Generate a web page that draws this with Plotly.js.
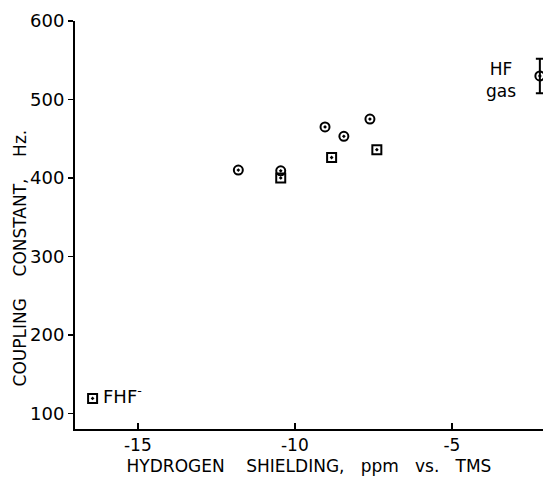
<!DOCTYPE html>
<html>
<head>
<meta charset="utf-8">
<script src="https://cdn.plot.ly/plotly-3.0.1.min.js"></script>
<style>html,body{margin:0;padding:0;background:#fff;}#chart{width:543px;height:477px;}</style>
</head>
<body>
<div id="chart"></div>
<script>
// Circles (⊙)
const circleX = [-11.8, -10.45, -9.04, -8.44, -7.61];
const circleY = [410, 409, 465, 453, 475];
// Squares (⊡)
const squareX = [-16.44, -10.45, -8.83, -7.39];
const squareY = [119, 400, 426, 436];
// HF gas point with error bar
const hfX = [-2.2];
const hfY = [530];
const hfErr = [22];
// Labels
const fhfLabel = "FHF<sup>-</sup>";
const hfLabel = "HF<br>gas";
const xTickVals = [-15, -10, -5];
const yTickVals = [100, 200, 300, 400, 500, 600];

const fam = "DejaVu Sans, Liberation Sans, sans-serif";
const font = {family: fam, color: "#000", size: 17};
const sp = "\u00a0";

const traces = [
  {x: circleX, y: circleY, mode: "markers", type: "scatter",
   marker: {symbol: "circle-open-dot", size: 9, color: "#000", line: {width: 2, color: "#000"}}},
  {x: squareX, y: squareY, mode: "markers", type: "scatter",
   marker: {symbol: "square-open-dot", size: 9, color: "#000", line: {width: 2, color: "#000"}}},
  {x: hfX, y: hfY, mode: "markers", type: "scatter",
   error_y: {type: "data", array: hfErr, visible: true, color: "#000", thickness: 2, width: 4},
   marker: {symbol: "circle-open-dot", size: 9, color: "#000", line: {width: 2, color: "#000"}}}
];

const layout = {
  width: 543, height: 477,
  margin: {l: 75, r: 0, t: 21, b: 48},
  paper_bgcolor: "#fff", plot_bgcolor: "#fff",
  showlegend: false,
  font: font,
  xaxis: {
    range: [-17, -2.1], showgrid: false, zeroline: false,
    showline: true, linecolor: "#000", linewidth: 2,
    ticks: "inside", ticklen: 6, tickwidth: 1.5, tickcolor: "#000",
    tickvals: xTickVals, ticktext: xTickVals.map(v => "-" + Math.abs(v)),
    tickfont: {family: fam, size: 17, color: "#000"},
    title: {text: "HYDROGEN" + sp.repeat(4) + "SHIELDING," + sp.repeat(3) + "ppm" + sp.repeat(3) + "vs." + sp.repeat(3) + "TMS",
            font: {family: fam, size: 17, color: "#000"}, standoff: 6}
  },
  yaxis: {
    range: [80, 600], showgrid: false, zeroline: false,
    showline: true, linecolor: "#000", linewidth: 2,
    ticks: "outside", ticklen: 5, tickwidth: 1.5, tickcolor: "#000",
    tickvals: yTickVals,
    tickfont: {family: fam, size: 18, color: "#000"}
  },
  annotations: [
    {xref: "paper", yref: "paper", x: -0.118, y: 0.42, xanchor: "center", yanchor: "middle",
     text: "COUPLING" + sp.repeat(4) + "CONSTANT," + sp.repeat(4) + "Hz.", textangle: -90, showarrow: false,
     font: {family: fam, size: 17, color: "#000"}},
    {x: squareX[0], y: squareY[0], xref: "x", yref: "y", text: fhfLabel, showarrow: false,
     xanchor: "left", yanchor: "middle", xshift: 8, yshift: 3,
     font: {family: fam, size: 18, color: "#000"}},
    {x: hfX[0], y: hfY[0], xref: "x", yref: "y", text: hfLabel, showarrow: false,
     xanchor: "right", yanchor: "middle", xshift: -22, yshift: -4, align: "center",
     font: {family: fam, size: 17, color: "#000"}}
  ]
};

Plotly.newPlot("chart", traces, layout, {displayModeBar: false, staticPlot: true});
</script>
</body>
</html>
